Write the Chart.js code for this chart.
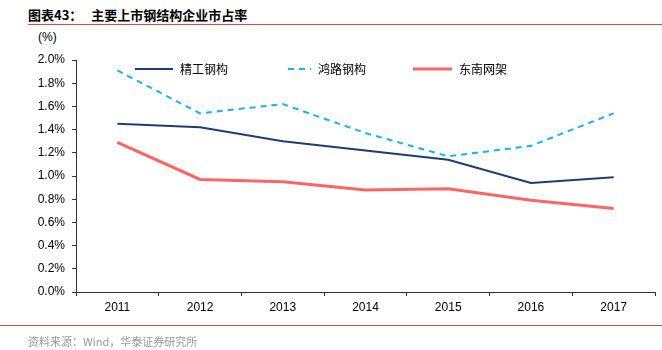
<!DOCTYPE html>
<html>
<head>
<meta charset="utf-8">
<script src="https://cdn.jsdelivr.net/npm/chart.js@4"></script>
<style>
  body { margin: 0; background: #fff; }
  #wrap { position: relative; width: 662px; height: 350px; font-family: "Liberation Sans", Arial, sans-serif; }
  #chart { position: absolute; left: 0; top: 0; }
  .title { position: absolute; left: 28px; top: 5px; font-size: 13px; font-weight: bold; font-family: "Noto Sans CJK SC", sans-serif; color: #000; }
  .topline { position: absolute; left: 28px; right: 0; top: 24px; height: 1px; background: #e8483b; }
  .botline { position: absolute; left: 0; right: 0; top: 325px; height: 1px; background: #e8483b; }
  .source { position: absolute; left: 28px; top: 333px; font-size: 11px; color: #999; font-family: "Noto Sans CJK SC", sans-serif; }
  .unit { position: absolute; left: 38px; top: 30px; font-size: 12px; color: #000; }
</style>
</head>
<body>
<div id="wrap">
  <div class="title">图表43：&nbsp;&nbsp; 主要上市钢结构企业市占率</div>
  <div class="topline"></div>
  <div class="unit">(%)</div>
  <canvas id="chart" width="662" height="350"></canvas>
  <div class="botline"></div>
  <div class="source">资料来源：Wind，华泰证券研究所</div>
</div>
<script>
const years = ['2011', '2012', '2013', '2014', '2015', '2016', '2017'];
const jinggong = [1.45, 1.42, 1.30, 1.22, 1.14, 0.94, 0.99];
const honglu = [1.91, 1.54, 1.62, 1.37, 1.17, 1.26, 1.54];
const dongnan = [1.29, 0.97, 0.95, 0.88, 0.89, 0.79, 0.72];
const seriesNames = ['精工钢构', '鸿路钢构', '东南网架'];

// legend drawn inside the plot area, like the original
const legendPlugin = {
  id: 'inLegend',
  afterDatasetsDraw(chart) {
    const ctx = chart.ctx;
    const spots = [[135, 180], [288, 318], [413, 459]];
    chart.data.datasets.forEach((ds, i) => {
      const [x0, tx] = spots[i];
      const y = 69;
      ctx.save();
      ctx.strokeStyle = ds.borderColor;
      ctx.lineWidth = ds.borderWidth;
      ctx.setLineDash(ds.borderDash || []);
      ctx.beginPath();
      ctx.moveTo(x0, y);
      ctx.lineTo(tx - 7, y);
      ctx.stroke();
      ctx.setLineDash([]);
      ctx.fillStyle = '#000';
      ctx.font = '12px "Noto Sans CJK SC", sans-serif';
      ctx.textBaseline = 'middle';
      ctx.fillText(ds.label, tx, y);
      ctx.restore();
    });
  }
};

new Chart(document.getElementById('chart'), {
  type: 'line',
  data: {
    labels: years,
    datasets: [
      { label: seriesNames[0], data: jinggong, borderColor: '#1f3c73', borderWidth: 2 },
      { label: seriesNames[1], data: honglu, borderColor: '#18b4ef', borderWidth: 2, borderDash: [6, 5] },
      { label: seriesNames[2], data: dongnan, borderColor: '#ff6464', borderWidth: 3 }
    ]
  },
  options: {
    responsive: false,
    animation: false,
    layout: { padding: { left: 0, right: 7, top: 60, bottom: 0 } },
    elements: { point: { radius: 0 }, line: { tension: 0 } },
    plugins: { legend: { display: false }, tooltip: { enabled: false } },
    scales: {
      x: {
        offset: true,
        grid: { offset: true, drawOnChartArea: false, tickLength: 4, color: '#333' },
        border: { color: '#333' },
        ticks: { color: '#000', font: { family: 'Liberation Sans', size: 12 }, padding: 4 },
        afterFit(scale) { scale.height = 58; }
      },
      y: {
        min: 0,
        max: 2.0,
        grid: { drawOnChartArea: false, tickLength: 4, color: '#333' },
        border: { color: '#333' },
        ticks: {
          stepSize: 0.2,
          color: '#000',
          padding: 7,
          font: { family: 'Liberation Sans', size: 12 },
          callback: v => v.toFixed(1) + '%'
        },
        afterFit(scale) { scale.width = 76; }
      }
    }
  },
  plugins: [legendPlugin]
});
</script>
</body>
</html>
